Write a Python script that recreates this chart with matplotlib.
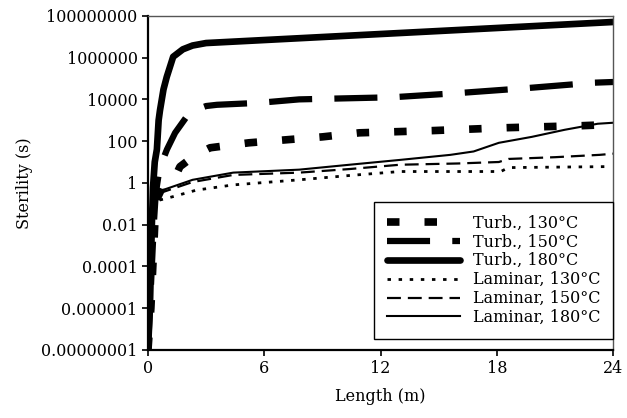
import matplotlib
matplotlib.use("Agg")
import matplotlib.pyplot as plt
from matplotlib.ticker import FixedLocator, FixedFormatter

# Sterility along the tube length for turbulent and laminar flow
turb130_x = [0.0, 0.15, 0.25, 0.35, 0.5, 0.8, 1.0, 1.5, 1.65, 2.4, 3.2, 5.2, 9.0, 10.9, 14.7, 18.5, 22.4, 24.0]
turb130_y = [1e-8, 1e-6, 1e-4, 1e-2, 0.2, 0.8, 1.5, 3.0, 6.0, 20, 48, 83, 160, 250, 320, 440, 550, 630]

turb150_x = [0.0, 0.1, 0.2, 0.3, 0.4, 0.6, 0.98, 1.4, 2.06, 2.6, 3.0, 3.56, 5.7, 7.8, 12.6, 16.0, 19.6, 23.0, 24.0]
turb150_y = [1e-8, 1e-6, 1e-4, 1e-2, 0.3, 5, 40, 250, 1800, 3500, 4800, 5500, 6800, 10000, 12600, 20000, 35000, 63000, 68000]

turb180_x = [0.0, 0.1, 0.15, 0.2, 0.26, 0.35, 0.46, 0.55, 0.62, 0.8, 0.97, 1.3, 1.8, 2.3, 3.0, 24.0]
turb180_y = [1e-8, 1e-6, 1e-4, 1e-2, 0.6, 10, 40, 1e3, 3e3, 3e4, 1.2e5, 1.1e6, 2.5e6, 3.8e6, 5e6, 5.1e7]

lam130_x = [0.6, 1.3, 2.5, 4.4, 7.8, 10.5, 13.0, 18.2, 18.6, 23.6]
lam130_y = [0.15, 0.22, 0.45, 0.8, 1.4, 2.3, 3.5, 3.5, 5.4, 6.0]

lam150_x = [0.5, 0.9, 2.3, 4.4, 7.8, 10.4, 13.0, 16.0, 18.1, 18.6, 21.0, 23.3, 24.0]
lam150_y = [0.3, 0.4, 1.1, 2.4, 3.1, 4.6, 7.4, 8.5, 10, 14, 17, 22, 25]

lam180_x = [0.5, 0.9, 2.3, 4.4, 7.8, 10.4, 13.0, 15.6, 16.8, 18.1, 19.8, 21.5, 23.2, 24.0]
lam180_y = [0.4, 0.5, 1.4, 3.1, 4.3, 7.4, 12.6, 22, 32, 83, 160, 350, 680, 760]

ytick_vals = [1e-8, 1e-6, 1e-4, 1e-2, 1, 1e2, 1e4, 1e6, 1e8]
ytick_text = ["0.00000001", "0.000001", "0.0001", "0.01", "1", "100", "10000", "1000000", "100000000"]
xtick_vals = [0, 6, 12, 18, 24]

plt.rcParams["font.family"] = "DejaVu Serif"
plt.rcParams["font.size"] = 11.5
plt.rcParams["lines.scale_dashes"] = False

fig = plt.figure(figsize=(6.27, 4.18), dpi=100)
ax = fig.add_axes([0.236, 0.163, 0.742, 0.799])

ax.plot(turb130_x, turb130_y, color="black", lw=5.5, dashes=(9, 18), label="Turb., 130°C")
ax.plot(turb150_x, turb150_y, color="black", lw=4.5, dashes=(31, 16), label="Turb., 150°C")
ax.plot(turb180_x, turb180_y, color="black", lw=4.8, solid_capstyle="round",
        solid_joinstyle="round", label="Turb., 180°C")
ax.plot(lam130_x, lam130_y, color="black", lw=2.0, dashes=(2.5, 5.5), label="Laminar, 130°C")
ax.plot(lam150_x, lam150_y, color="black", lw=1.6, dashes=(10, 5), label="Laminar, 150°C")
ax.plot(lam180_x, lam180_y, color="black", lw=1.5, label="Laminar, 180°C")

ax.set_yscale("log")
ax.set_ylim(1e-8, 1e8)
ax.set_xlim(0, 24)
ax.yaxis.set_major_locator(FixedLocator(ytick_vals))
ax.yaxis.set_major_formatter(FixedFormatter(ytick_text))
ax.yaxis.set_minor_locator(FixedLocator([]))
ax.set_xticks(xtick_vals)
ax.tick_params(direction="out", length=4, width=1.2, colors="black")

for side in ["left", "bottom"]:
    ax.spines[side].set_linewidth(1.6)
for side in ["top", "right"]:
    ax.spines[side].set_linewidth(1.0)
    ax.spines[side].set_color("#555555")

ax.set_xlabel("Length (m)", labelpad=8)
ax.set_ylabel("Sterility (s)", labelpad=6)

leg = ax.legend(loc="lower right", bbox_to_anchor=(1.0, 0.033), borderaxespad=0,
                fancybox=False, edgecolor="black", framealpha=1, handlelength=4.6,
                handletextpad=0.8, labelspacing=0.12, borderpad=0.8)
leg.get_frame().set_linewidth(1.0)

fig.savefig("out.png", dpi=100)
